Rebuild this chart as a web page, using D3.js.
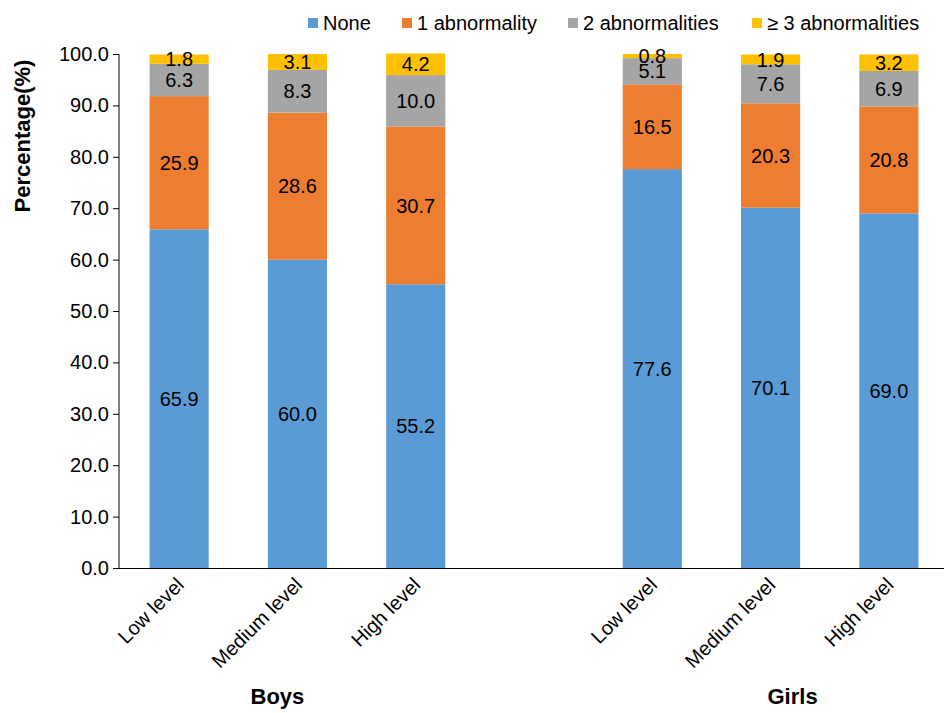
<!DOCTYPE html>
<html>
<head>
<meta charset="utf-8">
<script src="https://cdn.jsdelivr.net/npm/d3@7"></script>
<style>
  body { margin: 0; background: #fff; }
  svg { display: block; font-family: "Liberation Sans", Arial, sans-serif; }
</style>
</head>
<body>
<div id="chart"></div>
<script>
// categories, in plotting order; the empty slot separates the two groups
const slots = ['B-Low', 'B-Medium', 'B-High', 'gap', 'G-Low', 'G-Medium', 'G-High'];
const levelLabels = ['Low level', 'Medium level', 'High level', '', 'Low level', 'Medium level', 'High level'];
const groups = ['Boys', 'Girls'];
const seriesNames = ['None', '1 abnormality', '2 abnormalities', '\u2265 3 abnormalities'];
const seriesColors = ['#5B9BD5', '#ED7D31', '#A5A5A5', '#FFC000'];

const noneVals = [65.9, 60.0, 55.2, null, 77.6, 70.1, 69.0];
const oneVals = [25.9, 28.6, 30.7, null, 16.5, 20.3, 20.8];
const twoVals = [6.3, 8.3, 10.0, null, 5.1, 7.6, 6.9];
const threeVals = [1.8, 3.1, 4.2, null, 0.8, 1.9, 3.2];
const yTicks = [0, 10, 20, 30, 40, 50, 60, 70, 80, 90, 100];

const W = 944, H = 713;
const svg = d3.select('#chart').append('svg').attr('width', W).attr('height', H);

const x = d3.scaleBand().domain(slots).range([120, 948]).paddingInner(0.5).paddingOuter(0.25);
const y = d3.scaleLinear().domain([0, 100]).range([568, 54]);

const table = slots.map((s, i) => ({
  slot: s,
  None: noneVals[i], one: oneVals[i], two: twoVals[i], three: threeVals[i]
})).filter(d => d.None !== null);
const keys = ['None', 'one', 'two', 'three'];
const stacked = d3.stack().keys(keys)(table);

// bars
stacked.forEach((layer, li) => {
  const g = svg.append('g');
  g.selectAll('rect').data(layer).enter().append('rect')
    .attr('x', d => x(d.data.slot))
    .attr('width', x.bandwidth())
    .attr('y', d => y(d[1]))
    .attr('height', d => y(d[0]) - y(d[1]))
    .attr('fill', seriesColors[li]);
});
// value labels on top of every bar segment
stacked.forEach((layer, li) => {
  svg.append('g').selectAll('text').data(layer).enter().append('text')
    .attr('x', d => x(d.data.slot) + x.bandwidth() / 2)
    .attr('y', d => y((d[0] + d[1]) / 2))
    .attr('dy', '0.36em')
    .attr('text-anchor', 'middle')
    .attr('font-size', 20)
    .attr('fill', '#000')
    .text(d => d.data[keys[li]].toFixed(1));
});

// y axis
const yAxis = svg.append('g')
  .attr('transform', 'translate(119,0)')
  .call(d3.axisLeft(y).tickValues(yTicks).tickSize(6).tickFormat(d => d.toFixed(1)));
yAxis.select('.domain').attr('stroke', '#000').attr('d', `M0,${y(100)}V${y(0)}`);
yAxis.selectAll('.tick line').attr('stroke', '#000');
yAxis.selectAll('.tick text').attr('font-size', 20).attr('fill', '#000').attr('x', -10)
  .attr('font-family', '"Liberation Sans", Arial, sans-serif');

// x axis baseline
svg.append('line')
  .attr('x1', 119).attr('x2', W).attr('y1', y(0) + 0.5).attr('y2', y(0) + 0.5)
  .attr('stroke', '#000').attr('stroke-width', 1);

// category labels
svg.append('g').selectAll('text').data(slots.filter((s, i) => levelLabels[i] !== '')).enter()
  .append('text')
  .attr('transform', d => `translate(${x(d) + x.bandwidth() / 2 + 6},${586}) rotate(-45)`)
  .attr('text-anchor', 'end')
  .attr('font-size', 20)
  .attr('fill', '#000')
  .text(d => levelLabels[slots.indexOf(d)]);

// group labels
const groupCenters = [
  (x('B-Low') + x('B-High') + x.bandwidth()) / 2 - 20,
  (x('G-Low') + x('G-High') + x.bandwidth()) / 2 + 22
];
svg.append('g').selectAll('text').data(groups).enter().append('text')
  .attr('x', (d, i) => groupCenters[i])
  .attr('y', 704)
  .attr('text-anchor', 'middle')
  .attr('font-size', 22)
  .attr('font-weight', 'bold')
  .text(d => d);

// y title
svg.append('text')
  .attr('transform', 'translate(30,136) rotate(-90)')
  .attr('text-anchor', 'middle')
  .attr('font-size', 22)
  .attr('font-weight', 'bold')
  .text('Percentage(%)');

// legend
const legendX = [308, 402, 568, 752];
const legend = svg.append('g').selectAll('g').data(seriesNames).enter().append('g')
  .attr('transform', (d, i) => `translate(${legendX[i]},23)`);
legend.append('rect').attr('x', 0).attr('y', -5).attr('width', 10).attr('height', 10)
  .attr('fill', (d, i) => seriesColors[i]);
legend.append('text').attr('x', 15).attr('dy', '0.36em').attr('font-size', 20).text(d => d);
</script>
</body>
</html>
